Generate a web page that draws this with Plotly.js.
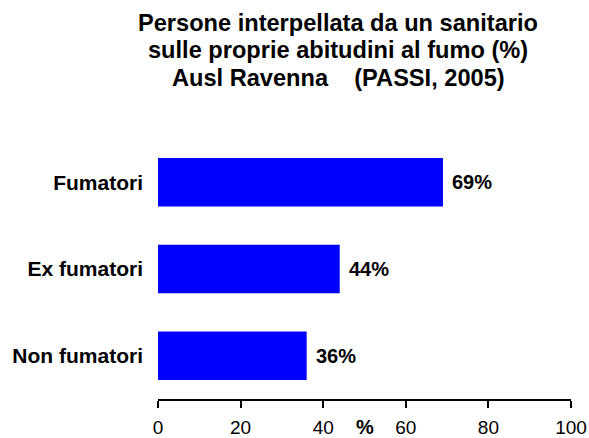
<!DOCTYPE html>
<html>
<head>
<meta charset="utf-8">
<script src="https://cdn.plot.ly/plotly-3.0.1.min.js"></script>
<style>html,body{margin:0;padding:0;background:#fff;}#chart{width:589px;height:438px;}</style>
</head>
<body>
<div id="chart"></div>
<script>
var categories = ["Fumatori", "Ex fumatori", "Non fumatori"];
var values = [69, 44, 36];
var valueLabels = ["69%", "44%", "36%"];
var tickValues = [0, 20, 40, 60, 80, 100];
var titleLines = ["Persone interpellata da un sanitario", "sulle proprie abitudini al fumo (%)", "Ausl Ravenna&nbsp;&nbsp;&nbsp;&nbsp;(PASSI, 2005)"];

var FONT = "Liberation Sans, Arial, sans-serif";
var W = 589, H = 438;
var M = {l: 158, r: 18, t: 139, b: 39};
var plotH = H - M.t - M.b;
var plotW = W - M.l - M.r;

var trace = {
  type: "bar",
  orientation: "h",
  y: categories,
  x: values,
  marker: {color: "#0000FF", line: {width: 0}},
  width: 0.56,
  hoverinfo: "none"
};

var annotations = values.map(function (v, i) {
  return {
    x: v, y: categories[i], xref: "x", yref: "y",
    text: valueLabels[i], showarrow: false,
    xanchor: "left", yanchor: "middle", xshift: 7,
    font: {family: FONT, size: 20, color: "#000", weight: "bold"}
  };
});
annotations.push({
  x: 50, y: 0, xref: "x", yref: "paper",
  text: "%", showarrow: false, xanchor: "center", yanchor: "middle",
  yshift: -28, height: 18, borderpad: 0,
  font: {family: FONT, size: 20, color: "#000", weight: "bold"}
});

// title lines (each as its own text so the line spacing matches)
var titleCenterPx = [23, 50.5, 78];
titleLines.forEach(function (line, i) {
  annotations.push({
    x: (338 - M.l) / plotW, xref: "paper", xanchor: "center",
    y: 1 + (M.t - titleCenterPx[i]) / plotH, yref: "paper", yanchor: "middle",
    text: line, showarrow: false, borderpad: 0,
    font: {family: FONT, size: 23.6, color: "#000", weight: "bold"}
  });
});

var layout = {
  width: W, height: H,
  paper_bgcolor: "#fff", plot_bgcolor: "#fff",
  margin: {l: M.l, r: M.r, t: M.t, b: M.b, pad: 0},
  showlegend: false,
  xaxis: {
    range: [0, 100], tickvals: tickValues, ticktext: tickValues.map(String),
    showgrid: false, zeroline: false,
    showline: true, linecolor: "#000", linewidth: 2,
    ticks: "outside", ticklen: 7, tickwidth: 2, tickcolor: "#000",
    ticklabelstandoff: 3,
    tickfont: {family: FONT, size: 19, color: "#000"},
    fixedrange: true
  },
  yaxis: {
    autorange: "reversed", categoryorder: "array", categoryarray: categories,
    showgrid: false, zeroline: false, showline: false, ticks: "",
    ticklabelstandoff: 14,
    tickfont: {family: FONT, size: 21, color: "#000", weight: "bold"},
    fixedrange: true
  },
  annotations: annotations
};

Plotly.newPlot("chart", [trace], layout, {displayModeBar: false, staticPlot: true});
</script>
</body>
</html>
